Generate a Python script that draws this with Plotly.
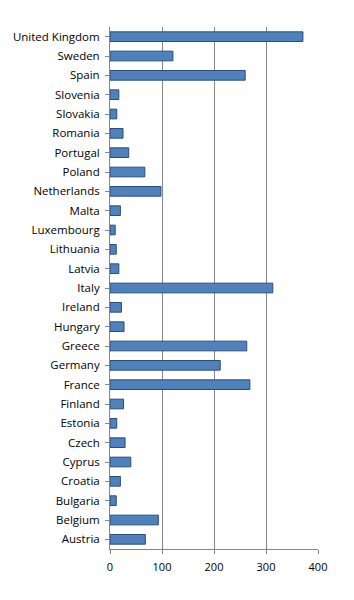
import plotly.graph_objects as go

countries = ["Austria", "Belgium", "Bulgaria", "Croatia", "Cyprus", "Czech", "Estonia",
             "Finland", "France", "Germany", "Greece", "Hungary", "Ireland", "Italy",
             "Latvia", "Lithuania", "Luxembourg", "Malta", "Netherlands", "Poland",
             "Portugal", "Romania", "Slovakia", "Slovenia", "Spain", "Sweden", "United Kingdom"]
values = [68, 93, 12, 20, 40, 29, 13,
          26, 269, 212, 263, 27, 22, 313,
          17, 12, 10, 20, 98, 67,
          36, 25, 13, 17, 260, 121, 371]
x_ticks = [0, 100, 200, 300, 400]

fig = go.Figure()
fig.add_trace(go.Bar(
    y=countries, x=values, orientation="h", width=0.5,
    marker=dict(color="#4F81BD", line=dict(color="#2C4D75", width=1)),
))
fig.update_layout(
    width=354, height=600,
    margin=dict(l=110, r=36, t=27, b=51),
    paper_bgcolor="white", plot_bgcolor="white",
    showlegend=False,
    font=dict(family="Open Sans", size=11, color="black"),
    xaxis=dict(range=[0, 400], tickvals=x_ticks, showgrid=True, gridcolor="#868686",
               gridwidth=1, showline=True, linecolor="#868686", ticks="outside",
               ticklen=4, tickcolor="#868686", zeroline=False, automargin=False,
               ticklabelstandoff=4, tickfont=dict(size=11)),
    yaxis=dict(categoryorder="array", categoryarray=countries, showline=True,
               linecolor="#868686", ticks="outside", ticklen=4, tickcolor="#868686",
               showgrid=False, tickfont=dict(size=11.5), ticklabelstandoff=3,
               automargin=False),
)
fig.write_html("out.html")
